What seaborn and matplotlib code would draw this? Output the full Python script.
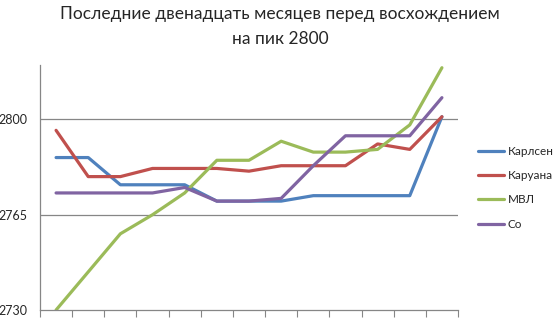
import matplotlib
matplotlib.use("Agg")
import matplotlib.pyplot as plt
import seaborn as sns
import pandas as pd
import numpy as np

months = list(range(1, 14))
carlsen = [2786, 2786, 2776, 2776, 2776, 2770, 2770, 2770, 2772, 2772, 2772, 2772, 2801]
caruana = [2796, 2779, 2779, 2782, 2782, 2782, 2781, 2783, 2783, 2783, 2791, 2789, 2801]
mvl = [2730, 2744, 2758, 2765, 2773, 2785, 2785, 2792, 2788, 2788, 2789, 2798, 2819]
so = [2773, 2773, 2773, 2773, 2775, 2770, 2770, 2771, 2783, 2794, 2794, 2794, 2808]
names = ["Карлсен", "Каруана", "МВЛ", "Со"]
title = "Последние двенадцать месяцев перед восхождением\nна пик 2800"
yticks = [2730, 2765, 2800]

sns.set_theme(style="white")
plt.rcParams["font.family"] = ["Lato", "Open Sans", "DejaVu Sans"]

rows = []
for name, vals in zip(names, [carlsen, caruana, mvl, so]):
    for i, v in enumerate(vals):
        rows.append({"idx": i, "val": v, "name": name})
df = pd.DataFrame(rows)

colors = ["#4F81BD", "#C0504D", "#9BBB59", "#8064A2"]

fig = plt.figure(figsize=(5.6, 3.29), dpi=100)
ax = fig.add_axes([40 / 560, 1 - 310 / 329, 418 / 560, 245 / 329])
sns.lineplot(data=df, x="idx", y="val", hue="name", hue_order=names,
             palette=colors, linewidth=2.3, ax=ax, legend=True)

ax.set_xlim(-0.5, len(months) - 0.5)
ax.set_ylim(2730, 2820)
ax.set_yticks(yticks)
ax.set_yticklabels([str(t) for t in yticks], fontsize=9)
ax.set_xticks(np.arange(-0.5, len(months), 1.0))
ax.set_xticklabels([])
ax.tick_params(axis="x", direction="out", length=5, width=0.8, color="#868686", bottom=True)
ax.tick_params(axis="y", length=0, pad=9)
ax.set_xlabel("")
ax.set_ylabel("")
for t in [2765, 2800]:
    ax.axhline(t, color="#868686", linewidth=0.9, zorder=0)
for s in ["top", "right"]:
    ax.spines[s].set_visible(False)
for s in ["left", "bottom"]:
    ax.spines[s].set_color("#868686")
    ax.spines[s].set_linewidth(0.9)

leg = ax.legend(loc="upper left", bbox_to_anchor=(478 / 560, 1 - 146 / 329),
                bbox_transform=fig.transFigure, frameon=False, fontsize=8.5,
                handlelength=2.2, labelspacing=1.12, handletextpad=0.3,
                borderpad=0, borderaxespad=0)
for line in leg.get_lines():
    line.set_linewidth(2.3)

fig.text(280 / 560, 1 - 6 / 329, title, ha="center", va="top", fontsize=12.5, linespacing=1.7)

fig.savefig("out.png", dpi=100)
